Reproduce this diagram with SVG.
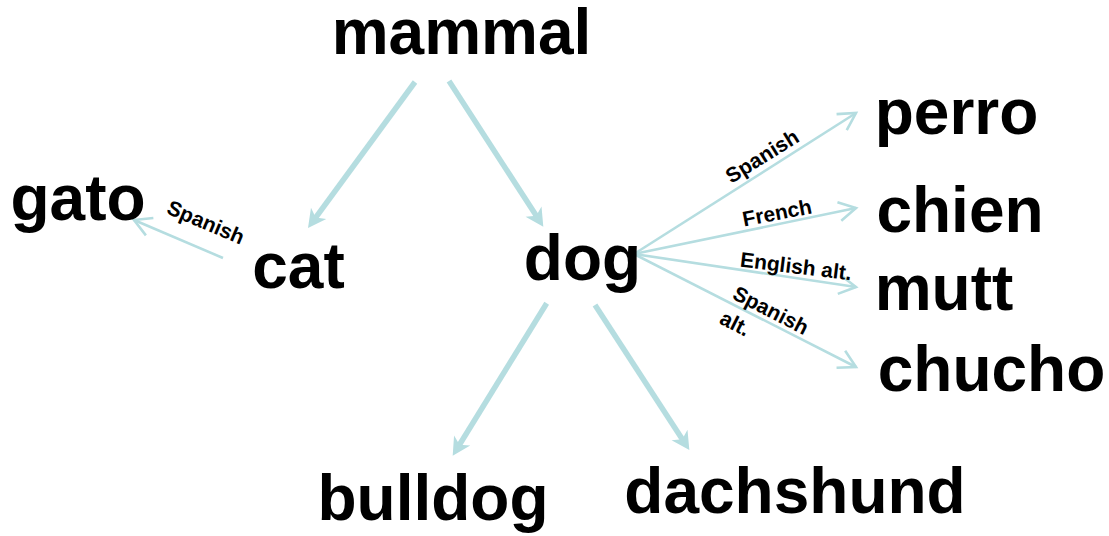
<svg xmlns="http://www.w3.org/2000/svg" width="1109" height="536" viewBox="0 0 1109 536">
<style>
.node{font-family:"Liberation Sans",Arial,sans-serif;font-weight:bold;font-size:64px;fill:#000;text-anchor:middle}
.lbl{font-family:"Liberation Sans",Arial,sans-serif;font-weight:bold;font-size:21px;fill:#000;text-anchor:middle}
.thick{stroke:#b5dde0;stroke-width:5.5;fill:none;marker-end:url(#hThick)}
.thin{stroke:#b5dde0;stroke-width:2.6;fill:none;marker-end:url(#hThin)}
</style>
<defs>
<marker id="hThick" markerUnits="userSpaceOnUse" orient="auto" refX="0" refY="0" markerWidth="40" markerHeight="40" overflow="visible">
<path d="M12,0 L-6,-9.5 L-1,0 L-6,9.5 Z" fill="#b5dde0"/>
</marker>
<marker id="hThin" markerUnits="userSpaceOnUse" orient="auto" refX="0" refY="0" markerWidth="40" markerHeight="40" overflow="visible">
<path d="M-17,-9.5 L0,0 L-17,9.5" fill="none" stroke="#b5dde0" stroke-width="2.6"/>
</marker>
</defs>
<rect width="1109" height="536" fill="#fff"/>
<g id="connectors">
<path class="thick" d="M415,82 L315.1,218.3"/>
<path class="thick" d="M449,81 L536.8,216.6"/>
<path class="thick" d="M546.7,303.3 L459,445.5"/>
<path class="thick" d="M595,305 L682.8,440"/>
<path class="thin" d="M223,258 L134,220"/>
<path class="thin" d="M634,254 L856,113"/>
<path class="thin" d="M634,254 L856,208"/>
<path class="thin" d="M634,254 L856,287"/>
<path class="thin" d="M634,254 L856,367"/>
<text class="lbl" transform="translate(206,222) rotate(23)" y="7.5">Spanish</text>
<text class="lbl" transform="translate(762,156) rotate(-32)" y="7.5">Spanish</text>
<text class="lbl" transform="translate(777,212.5) rotate(-11)" y="7.5">French</text>
<text class="lbl" transform="translate(796,266) rotate(7)" y="7.5">English alt.</text>
<g transform="translate(771,310) rotate(27)">
<text class="lbl" y="7.5">Spanish</text>
<text class="lbl" x="-41" y="35.5" style="text-anchor:start">alt.</text>
</g>
</g>
<g id="mammal"><text class="node" x="461.5" y="54">mammal</text></g>
<g id="cat"><text class="node" x="298.5" y="288">cat</text></g>
<g id="dog"><text class="node" x="582.5" y="280">dog</text></g>
<g id="gato"><text class="node" x="78" y="220">gato</text></g>
<g id="perro"><text class="node" x="956.5" y="134">perro</text></g>
<g id="chien"><text class="node" x="960" y="232">chien</text></g>
<g id="mutt"><text class="node" x="944" y="310">mutt</text></g>
<g id="chucho"><text class="node" x="991.5" y="391">chucho</text></g>
<g id="bulldog"><text class="node" x="433" y="520">bulldog</text></g>
<g id="dachshund"><text class="node" x="795" y="513">dachshund</text></g>
</svg>
